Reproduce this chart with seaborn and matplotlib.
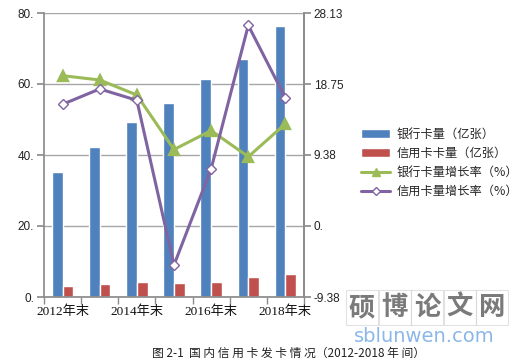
import numpy as np
import pandas as pd
import matplotlib
matplotlib.use("Agg")
import matplotlib.pyplot as plt
from matplotlib.patches import Rectangle, Patch
from matplotlib.lines import Line2D
import seaborn as sns

# ---- data ----
years = ["2012年末", "2013年末", "2014年末", "2015年末", "2016年末", "2017年末", "2018年末"]
bank_cards = [35.3, 42.2, 49.4, 54.6, 61.4, 67.0, 76.3]
credit_cards = [3.0, 3.6, 4.2, 3.9, 4.3, 5.5, 6.5]
bank_growth = [19.85, 19.28, 17.3, 10.1, 12.6, 9.15, 13.5]
credit_growth = [16.07, 18.1, 16.6, -5.16, 7.56, 26.5, 16.9]

series_names = ["银行卡量（亿张）", "信用卡卡量（亿张）", "银行卡量增长率（%）", "信用卡量增长率（%）"]
left_ticks = [0, 20, 40, 60, 80]
left_labels = ["0.", "20.", "40.", "60.", "80."]
right_ticks = [-9.38, 0, 9.38, 18.75, 28.13]
right_labels = ["-9.38", "0.", "9.38", "18.75", "28.13"]
xlabel_show = ["2012年末", "2014年末", "2016年末", "2018年末"]
caption = "图 2-1  国 内 信 用 卡 发 卡 情 况（2012-2018 年 间）"
wm_chars = ["硕", "博", "论", "文", "网"]
wm_url = "sblunwen.com"

BLUE, RED, GREEN, PURPLE = "#4F81BD", "#C0504D", "#9BBB59", "#8064A2"
GRID = "#A6A6A6"

sns.set_theme(style="white")
plt.rcParams["font.family"] = ["DejaVu Sans", "Noto Sans CJK SC"]

fig = plt.figure(figsize=(5.2, 3.62), dpi=100)
ax = fig.add_axes([44/520, 1-297/362, 260/520, 284/362])

df = pd.DataFrame({
    "year": years * 2,
    "value": bank_cards + credit_cards,
    "series": [series_names[0]] * len(years) + [series_names[1]] * len(years),
})
sns.barplot(data=df, x="year", y="value", hue="series", order=years,
            palette=[BLUE, RED], width=0.58, dodge=True, ax=ax,
            errorbar=None, legend=False, saturation=1)

ax.set_xlim(-0.5, len(years) - 0.5)
ax.set_ylim(0, 80)
ax.set_yticks(left_ticks)
ax.set_yticklabels(left_labels, fontsize=8.5, family=["Liberation Sans"], color="#222222")
ax.yaxis.grid(True, color=GRID, linewidth=1)
ax.set_axisbelow(True)
ax.set_xlabel("")
ax.set_ylabel("")
ax.spines["top"].set_visible(False)
for s in ["left", "bottom", "right"]:
    ax.spines[s].set_color("#8C8C8C")
ax.tick_params(axis="y", length=5, color="#8C8C8C", direction="out", pad=2, left=True)

ax2 = ax.twinx()
sns.pointplot(x=years, y=bank_growth, order=years, color=GREEN, marker="^",
              markersize=7.5, linewidth=2.2, errorbar=None, ax=ax2)
sns.pointplot(x=years, y=credit_growth, order=years, color=PURPLE, marker="D",
              markersize=5, linewidth=2.2, errorbar=None, ax=ax2,
              markerfacecolor="white", markeredgewidth=1)
ax2.set_ylim(-9.38, 28.13)
ax2.set_yticks(right_ticks)
ax2.set_yticklabels(right_labels, fontsize=8.5, family=["Liberation Sans"], color="#222222")
ax2.set_ylabel("")
ax2.tick_params(axis="y", length=5, color="#8C8C8C", direction="out", pad=2, right=True)
for s in ["top", "left", "bottom"]:
    ax2.spines[s].set_visible(False)
ax2.spines["right"].set_color("#8C8C8C")

# x ticks: marks at boundaries, labels at every other category
ax2.set_xlim(-0.5, len(years) - 0.5)
pos = [years.index(y) for y in xlabel_show]
ax.set_xticks(pos)
ax.set_xticklabels(xlabel_show, fontsize=9.5, family=["Liberation Serif", "Noto Sans CJK SC"], color="#111111")
ax.set_xticks(np.arange(-0.5, len(years)), minor=True)
ax.tick_params(axis="x", which="major", length=0, pad=6)
ax.tick_params(axis="x", which="minor", length=5, color="#8C8C8C", direction="out", bottom=True)
ax2.tick_params(axis="x", which="both", bottom=False, labelbottom=False)

handles = [
    Patch(facecolor=BLUE, label=series_names[0]),
    Patch(facecolor=RED, label=series_names[1]),
    Line2D([], [], color=GREEN, marker="^", markersize=6, linewidth=2.2, label=series_names[2]),
    Line2D([], [], color=PURPLE, marker="D", markersize=4, markerfacecolor="white",
           linewidth=2.2, label=series_names[3]),
]
fig.legend(handles=handles, loc="center left", bbox_to_anchor=(350/520, 1-163/362),
           frameon=False, prop={"family": "Noto Sans CJK SC", "size": 8.8},
           handlelength=2.4, handleheight=0.7, labelspacing=0.5, handletextpad=0.5)

# caption
fig.text(289/520, 1-353/362, caption, ha="center", va="center", fontsize=8.5,
         family=["Noto Sans CJK SC", "DejaVu Sans"], color="#222222")

# watermark
box_w, box_h = 32/520, 35/362
for i, ch in enumerate(wm_chars):
    x0 = (346 + i * 32.6) / 520
    y0 = 1 - 325/362
    fig.patches.append(Rectangle((x0, y0), box_w, box_h, transform=fig.transFigure,
                                 facecolor="white", edgecolor="#CFCFCF", linewidth=0.8, alpha=0.6))
    fig.text(x0 + box_w/2, y0 + box_h/2, ch, ha="center", va="center", fontsize=19,
             fontweight="bold", family="Noto Sans CJK SC", color="#7A7A7A")
fig.text(424/520, 1-337/362, wm_url, ha="center", va="center", fontsize=14,
         family="DejaVu Sans", color="#7FB0E6", alpha=0.9)

fig.savefig("out.png", dpi=100)
